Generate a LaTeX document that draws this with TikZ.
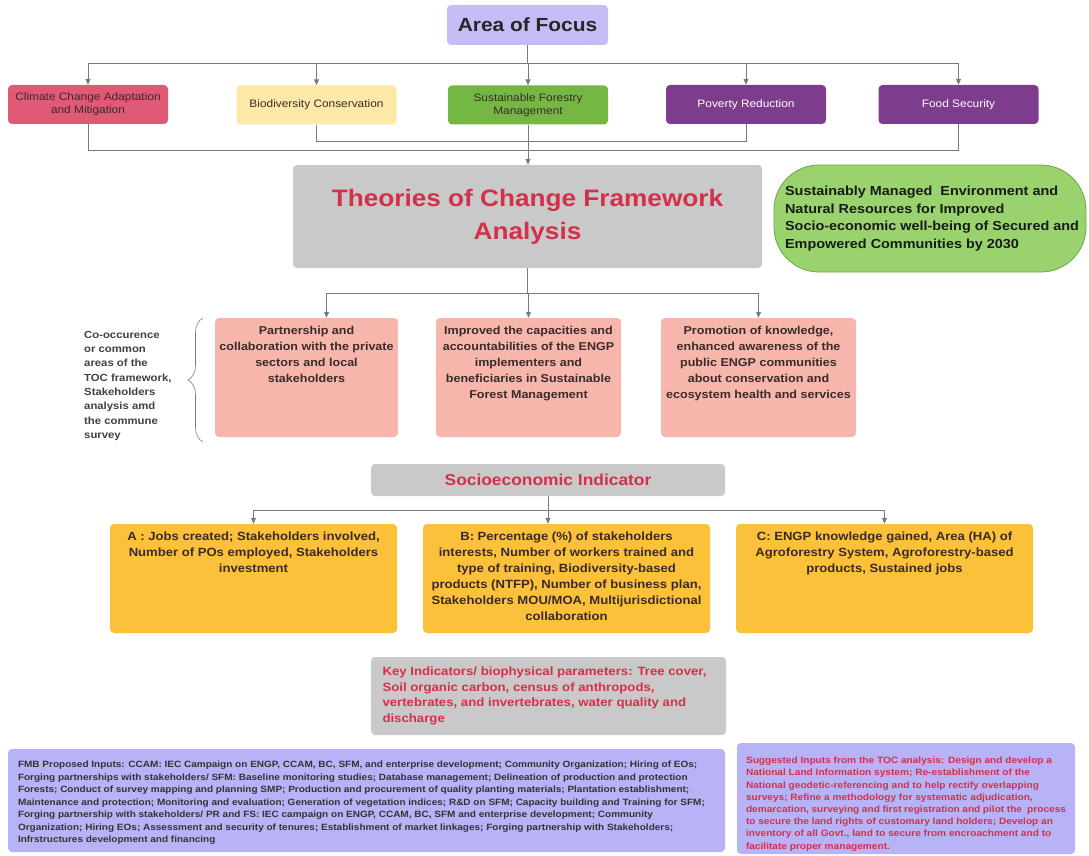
\documentclass[tikz,border=0pt]{standalone}
\usepackage{fontspec}
\setmainfont{Liberation Sans}[FakeStretch=1.1]
\usetikzlibrary{arrows.meta,decorations.pathreplacing}
\definecolor{lav}{HTML}{C7BDF6}
\definecolor{ccred}{HTML}{E05A75}
\definecolor{bioy}{HTML}{FCE9A8}
\definecolor{sfmg}{HTML}{74B843}
\definecolor{purp}{HTML}{7E3D8C}
\definecolor{boxgray}{HTML}{C9C9C9}
\definecolor{redtxt}{HTML}{D3304A}
\definecolor{goalg}{HTML}{9AD36E}
\definecolor{goalb}{HTML}{6AA845}
\definecolor{pinkb}{HTML}{F7B6AC}
\definecolor{gold}{HTML}{FBC13A}
\definecolor{lavb}{HTML}{B8B2F6}
\definecolor{linec}{HTML}{7A7A7A}
\definecolor{darktxt}{HTML}{3A2A2A}
\begin{document}
\begin{tikzpicture}[x=1pt,y=-1pt,
  rbox/.style={rounded corners=4pt, inner sep=0pt, draw=none, align=center},
  rowlab/.style={rbox, minimum width=160pt, minimum height=39pt, font=\fontsize{10.8}{13}\selectfont, text=darktxt},
  pinkbox/.style={rbox, fill=pinkb, minimum width=#1, minimum height=119pt, text=darktxt},
  goldbox/.style={rbox, fill=gold, minimum width=#1, minimum height=109pt, text=darktxt},
  conn/.style={draw=linec, line width=0.8pt},
  arr/.style={conn, -{Triangle[length=6pt,width=5pt]}},
]
\useasboundingbox (0,0) rectangle (1089,856);

% top
\node[rbox, fill=lav, minimum width=161pt, minimum height=40pt, font=\fontsize{19}{24}\selectfont\bfseries, text=black!85] (aof) at (527.5,25) {Area of Focus};

\node[rowlab, fill=ccred] (cc) at (88,104.5) {Climate Change Adaptation\\and Mitigation};
\node[rowlab, fill=bioy] (bio) at (316.5,105) {Biodiversity Conservation};
\node[rowlab, fill=sfmg] (sfm) at (528,105) {Sustainable Forestry\\Management};
\node[rowlab, fill=purp, text=white] (pov) at (746,104.5) {Poverty Reduction};
\node[rowlab, fill=purp, text=white] (food) at (958.5,104.5) {Food Security};

\foreach \t in {cc,bio,sfm,pov,food}
  \draw[arr] (aof.south) -- ++(0,18) -| (\t.north);

\node[rbox, fill=boxgray, minimum width=469pt, minimum height=103pt, font=\fontsize{23.8}{33}\selectfont\bfseries, text=redtxt] (toc) at (527.5,216.5) {Theories of Change Framework\\Analysis};

\draw[conn] (bio.south) -- ++(0,17) -| (pov.south);
\draw[conn] (cc.south) -- ++(0,26) -| (food.south);
\draw[arr] (sfm.south) -- (sfm.south |- toc.north);

\node[rounded corners=45pt, fill=goalg, draw=goalb, line width=0.8pt, inner sep=0pt, minimum width=312pt, minimum height=107pt, align=left, font=\fontsize{13.1}{17.5}\selectfont\bfseries, text=black!90] (goal) at (930,218.5) {\hspace*{4pt}Sustainably Managed\ \ Environment and\\\hspace*{4pt}Natural Resources for Improved\\\hspace*{4pt}Socio-economic well-being of Secured and\\\hspace*{4pt}Empowered Communities by 2030};

% pink row
\node[pinkbox=183pt] (p1) at (306.5,377.5) {\parbox[c][119pt][t]{183pt}{\centering\fontsize{11.4}{16}\selectfont\bfseries\vspace*{8pt}Partnership and\\collaboration with the private\\sectors and local\\stakeholders}};
\node[pinkbox=185pt] (p2) at (528.5,377.5) {\parbox[c][119pt][t]{185pt}{\centering\fontsize{11.4}{16}\selectfont\bfseries\vspace*{8pt}Improved the capacities and\\accountabilities of the ENGP\\implementers and\\beneficiaries in Sustainable\\Forest Management}};
\node[pinkbox=195pt] (p3) at (758.5,377.5) {\parbox[c][119pt][t]{195pt}{\centering\fontsize{11.4}{16}\selectfont\bfseries\vspace*{8pt}Promotion of knowledge,\\enhanced awareness of the\\public ENGP communities\\about conservation and\\ecosystem health and services}};

\draw[arr] (toc.south) -- ++(0,25) -| ([xshift=20pt]p1.north);
\draw[arr] (toc.south) -- ++(0,25) -| (p2.north);
\draw[arr] (toc.south) -- ++(0,25) -| (p3.north);

\node[anchor=north west, inner sep=0pt, align=left, font=\fontsize{10.3}{14.3}\selectfont\bfseries, text=black!75] (lab) at (84,331) {Co-occurence\\or common\\areas of the\\TOC framework,\\Stakeholders\\analysis amd\\the commune\\survey};
\coordinate (brb) at (203,442);
\coordinate (brt) at (203,318);
\draw[conn, line width=0.6pt, decorate, decoration={brace, amplitude=15pt}] (brb) -- (brt);

% socioeconomic
\node[rbox, fill=boxgray, minimum width=354pt, minimum height=32pt, font=\fontsize{15.8}{19}\selectfont\bfseries, text=redtxt] (socio) at (548,480) {Socioeconomic Indicator};

\node[goldbox=287pt] (ga) at (253.5,578.5) {\parbox[c][109pt][t]{287pt}{\centering\fontsize{11.9}{16}\selectfont\bfseries\vspace*{8pt}A : Jobs created; Stakeholders involved,\\Number of POs employed, Stakeholders\\investment}};
\node[goldbox=287pt] (gb) at (566.5,578.5) {\parbox[c][109pt][t]{287pt}{\centering\fontsize{11.9}{16}\selectfont\bfseries\vspace*{8pt}B: Percentage (\%) of stakeholders\\interests, Number of workers trained and\\type of training, Biodiversity-based\\products (NTFP), Number of business plan,\\Stakeholders MOU/MOA, Multijurisdictional\\collaboration}};
\node[goldbox=297pt] (gc) at (884.5,578.5) {\parbox[c][109pt][t]{297pt}{\centering\fontsize{11.9}{16}\selectfont\bfseries\vspace*{8pt}C: ENGP knowledge gained, Area (HA) of\\Agroforestry System, Agroforestry-based\\products, Sustained jobs}};

\draw[arr] (socio.south) -- ++(0,14) -| (ga.north);
\draw[arr] (socio.south) -- (socio.south |- gb.north);
\draw[arr] (socio.south) -- ++(0,14) -| (gc.north);

% key indicators
\node[rbox, fill=boxgray, minimum width=355pt, minimum height=78pt, align=left, font=\fontsize{12}{15.7}\selectfont\bfseries, text=redtxt] (key) at (548.5,696) {\parbox{332pt}{Key Indicators/ biophysical parameters: Tree cover,\\Soil organic carbon, census of anthropods,\\vertebrates, and invertebrates, water quality and\\discharge}};

% bottom
\node[rbox, fill=lavb, minimum width=717pt, minimum height=103pt] (fmb) at (366.5,800.5) {\parbox[c][103pt][t]{697pt}{\raggedright\fontsize{9.1}{12.5}\selectfont\bfseries\color{black!80}\vspace*{12pt}FMB Proposed Inputs: CCAM: IEC Campaign on ENGP, CCAM, BC, SFM, and enterprise development; Community Organization; Hiring of EOs;\\Forging partnerships with stakeholders/ SFM: Baseline monitoring studies; Database management; Delineation of production and protection\\Forests; Conduct of survey mapping and planning SMP; Production and procurement of quality planting materials; Plantation establishment;\\Maintenance and protection; Monitoring and evaluation; Generation of vegetation indices; R\&D on SFM; Capacity building and Training for SFM;\\Forging partnership with stakeholders/ PR and FS: IEC campaign on ENGP, CCAM, BC, SFM and enterprise development; Community\\Organization; Hiring EOs; Assessment and security of tenures; Establishment of market linkages; Forging partnership with Stakeholders;\\Infrstructures development and financing}};

\node[rbox, fill=lavb, minimum width=338pt, minimum height=111pt] (sug) at (906,798.5) {\parbox[c][111pt][t]{320pt}{\raggedright\fontsize{9.2}{12.2}\selectfont\bfseries\color{redtxt}\vspace*{14pt}Suggested Inputs from the TOC analysis: Design and develop a\\National Land Information system; Re-establishment of the\\National geodetic-referencing and to help rectify overlapping\\surveys; Refine a methodology for systematic adjudication,\\demarcation, surveying and first registration and pilot the\ \ process\\to secure the land rights of customary land holders; Develop an\\inventory of all Govt., land to secure from encroachment and to\\facilitate proper management.}};
\end{tikzpicture}
\end{document}
